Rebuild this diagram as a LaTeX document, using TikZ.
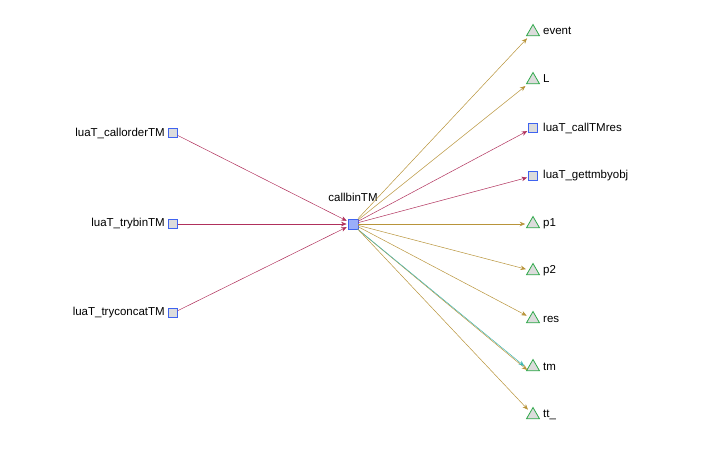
\documentclass[tikz,border=0pt]{standalone}
\usepackage{fontspec}
\setmainfont{Liberation Sans}
\usetikzlibrary{shapes.geometric,arrows.meta}
\definecolor{callred}{HTML}{B0305C}
\definecolor{vargold}{HTML}{B8943A}
\definecolor{varteal}{HTML}{3FB5B0}
\definecolor{fnfill}{HTML}{DCDCDC}
\definecolor{fnedge}{HTML}{3F63F0}
\definecolor{hubfill}{HTML}{9AAEFA}
\definecolor{tribord}{HTML}{2EA84A}
\begin{document}
\begin{tikzpicture}[x=1pt,y=-1pt,
  every node/.style={font=\fontsize{11.5}{13}\selectfont},
  fn/.style={draw=fnedge,fill=fnfill,line width=0.8pt,minimum size=9pt,inner sep=0pt},
  hub/.style={draw=fnedge,fill=hubfill,line width=0.8pt,minimum size=10pt,inner sep=0pt},
  var/.style={regular polygon,regular polygon sides=3,draw=tribord,fill=fnfill,line width=0.8pt,minimum size=15pt,inner sep=0pt},
  lbl/.style={inner sep=0pt},
  calledge/.style={draw=callred,line width=0.5pt,-{Stealth[length=5.5pt,width=4.5pt]},shorten >=1pt},
  varedge/.style={draw=vargold,line width=0.5pt,-{Stealth[length=5.5pt,width=4.5pt]},shorten >=3pt},
  tealedge/.style={draw=varteal,line width=0.5pt,-{Stealth[length=5.5pt,width=4.5pt]}}]
\useasboundingbox (0,0) rectangle (720,448);

% central function
\node[hub] (hub) at (353,224) {};
\node[lbl] at (353,197) {callbinTM};

% callers
\node[fn] (c1) at (173,133) {};
\node[fn] (c2) at (173,224) {};
\node[fn] (c3) at (173,313) {};
\node[lbl,anchor=east] at (165,133) {luaT\_callorderTM};
\node[lbl,anchor=east] at (165,224) {luaT\_trybinTM};
\node[lbl,anchor=east] at (165,313) {luaT\_tryconcatTM};

% callees and variables
\node[var] (event) at (533,32) {};
\node[var] (L) at (533,80) {};
\node[fn] (callres) at (533,128) {};
\node[fn] (gettm) at (533,176) {};
\node[var] (p1) at (533,224) {};
\node[var] (p2) at (533,271) {};
\node[var] (res) at (533,319) {};
\node[var] (tm) at (533,367) {};
\node[var] (tt) at (533,415) {};

\node[lbl,anchor=west] at (543,31) {event};
\node[lbl,anchor=west] at (543,79) {L};
\node[lbl,anchor=west] at (543,128) {luaT\_callTMres};
\node[lbl,anchor=west] at (543,176) {luaT\_gettmbyobj};
\node[lbl,anchor=west] at (543,224) {p1};
\node[lbl,anchor=west] at (543,271) {p2};
\node[lbl,anchor=west] at (543,319) {res};
\node[lbl,anchor=west] at (543,367) {tm};
\node[lbl,anchor=west] at (543,415) {tt\_};

% edges into the hub
\draw[calledge] (c1) -- (hub);
\draw[calledge] (c2) -- (hub);
\draw[calledge] (c3) -- (hub);

% edges out of the hub
\draw[varedge] (hub) -- (event);
\draw[varedge] (hub) -- (L);
\draw[calledge] (hub) -- (callres);
\draw[calledge] (hub) -- (gettm);
\draw[varedge] (hub) -- (p1);
\draw[varedge] (hub) -- (p2);
\draw[varedge] (hub) -- (res);
\draw[varedge,shorten >=0pt] ([xshift=0.5pt,yshift=-1pt]hub.south east) -- ([xshift=-1pt,yshift=-3pt]tm.west);
\draw[tealedge] ([xshift=-1pt,yshift=0.5pt]hub.south east) -- ([xshift=-4pt,yshift=1pt]tm.west);
\draw[varedge] (hub) -- (tt);
\end{tikzpicture}
\end{document}
